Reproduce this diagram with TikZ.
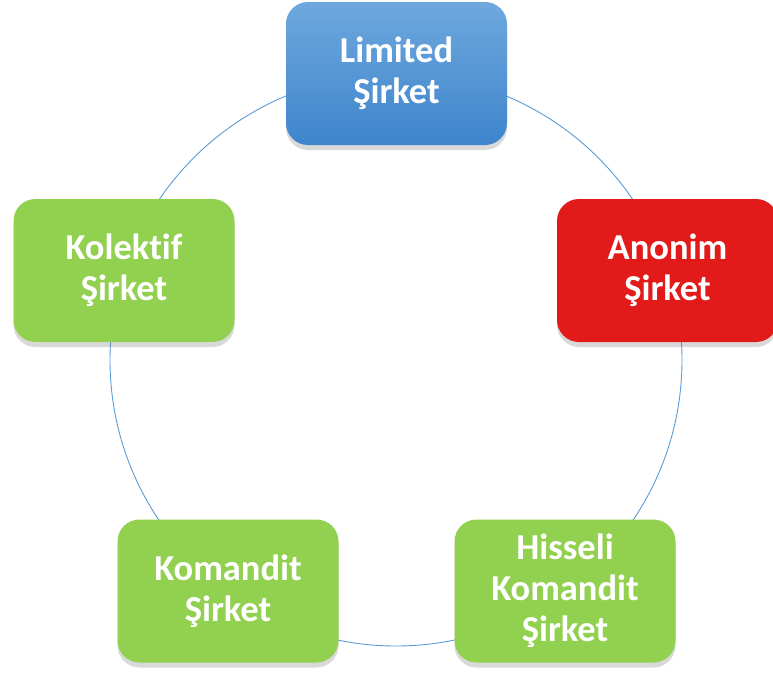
\documentclass[tikz,border=0pt]{standalone}
\usepackage{fontspec}
\setmainfont[Ligatures=NoCommon]{Carlito}
\usetikzlibrary{shadows}
\definecolor{ringblue}{RGB}{91,155,213}
\definecolor{bluetop}{RGB}{110,168,222}
\definecolor{bluebot}{RGB}{62,133,204}
\definecolor{boxred}{RGB}{226,26,26}
\definecolor{boxgreen}{RGB}{146,208,80}
\tikzset{
  firm/.style={rounded corners=22pt, minimum width=221pt, minimum height=143pt,
    inner sep=0pt, align=center, text=white,
    font=\fontsize{36.5}{41}\selectfont\bfseries,
    drop shadow={opacity=0.3, shadow xshift=0pt, shadow yshift=-5pt}},
  bluefirm/.style={firm, top color=bluetop, bottom color=bluebot},
  redfirm/.style={firm, fill=boxred},
  greenfirm/.style={firm, fill=boxgreen},
  ring/.style={draw=ringblue, line width=0.9pt}
}
\begin{document}
\begin{tikzpicture}[x=1pt,y=-1pt]
\useasboundingbox (0,0) rectangle (773,673);
\coordinate (c) at (396,360);
\draw[ring] (c) circle[radius=286];
\node[bluefirm]  (ltd) at (396.5,73.5) {Limited\\Şirket};
\node[redfirm]   (as)  at (667.5,270.5) {Anonim\\Şirket};
\node[greenfirm] (kol) at (124,270.5) {Kolektif\\Şirket};
\node[greenfirm] (kom) at (228,591) {Komandit\\Şirket};
\node[greenfirm] (hk)  at (565,591) {Hisseli\\Komandit\\Şirket};
\end{tikzpicture}
\end{document}
